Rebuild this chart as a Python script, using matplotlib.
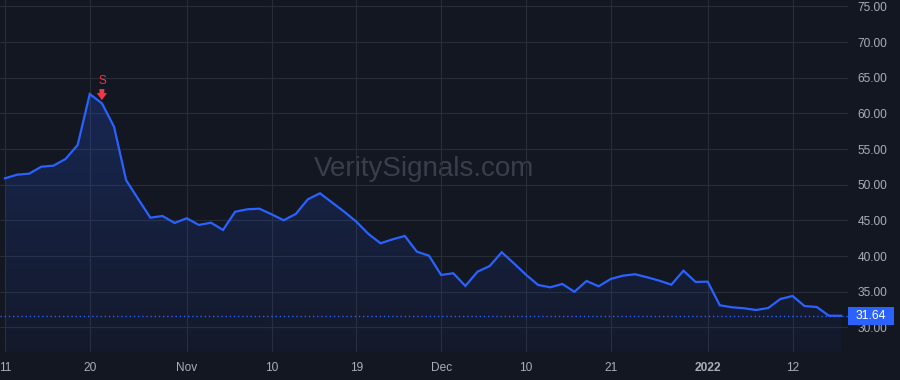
import numpy as np
import pandas as pd
import matplotlib
matplotlib.use('Agg')
import matplotlib.pyplot as plt
from matplotlib.patches import Rectangle
from matplotlib.transforms import blended_transform_factory

# trading days Oct 11 2021 - Jan 19 2022 (market holidays left out)
holidays = ['2021-11-25', '2021-12-24', '2022-01-17']
dates = pd.bdate_range('2021-10-11', '2022-01-19', freq='C', holidays=holidays)

prices = [50.91, 51.42, 51.56, 52.54, 52.68, 53.62, 55.58, 62.73, 61.43, 58.15,
          50.65, 48.00, 45.39, 45.63, 44.65, 45.31, 44.37, 44.69, 43.67, 46.23,
          46.57, 46.65, 45.87, 45.03, 45.91, 47.97, 48.81, 47.52, 46.23, 44.83,
          43.11, 41.80, 42.36, 42.83, 40.62, 40.06, 37.36, 37.60, 35.82, 37.82,
          38.60, 40.54, 39.00, 37.40, 35.96, 35.63, 36.10, 35.00, 36.52, 35.77,
          36.80, 37.26, 37.46, 37.04, 36.56, 36.00, 37.96, 36.38, 36.42, 33.11,
          32.83, 32.69, 32.45, 32.73, 33.99, 34.41, 33.00, 32.87, 31.65, 31.64]

tick_dates = ['2021-10-11', '2021-10-20', '2021-11-01', '2021-11-10', '2021-11-19',
              '2021-12-01', '2021-12-10', '2021-12-21', '2022-01-03', '2022-01-12']
tick_labels = ['11', '20', 'Nov', '10', '19', 'Dec', '10', '21', '2022', '12']
y_ticks = [30, 35, 40, 45, 50, 55, 60, 65, 70, 75]

signal_date = '2021-10-21'
signal_label = 'S'
last_price = prices[-1]

bg = '#131722'
grid = '#282c37'
blue = '#2962ff'
txt = '#abaeb7'
red = '#f23645'

x = np.arange(len(prices))
pos = {d: i for i, d in enumerate(dates.strftime('%Y-%m-%d'))}

fig = plt.figure(figsize=(9, 3.8), dpi=100, facecolor=bg)
ax = fig.add_axes([0, 28 / 380, 848 / 900, 352 / 380], facecolor=bg)
ymin, ymax = 26.56, 75.91

# gradient area under the line
fill = ax.fill_between(x, prices, ymin, color='none', lw=0)
grad = np.linspace(0, 1, 256).reshape(-1, 1)
cmap = matplotlib.colors.LinearSegmentedColormap.from_list(
    'g', [(0.161, 0.384, 1.0, 0.04), (0.161, 0.384, 1.0, 0.22)])
img = ax.imshow(grad, cmap=cmap, aspect='auto', origin='lower',
                extent=[x[0], x[-1], ymin, max(prices)], zorder=1)
img.set_clip_path(fill.get_paths()[0], transform=ax.transData)
ax.set_xlim(-0.41, 69.58)
ax.set_ylim(ymin, ymax)

ax.plot(x, prices, color=blue, lw=1.6, zorder=3, solid_joinstyle='miter')
ax.axhline(last_price, color=blue, lw=1, ls=(0, (1, 2)), zorder=2)

# grid
ax.set_yticks(y_ticks)
ax.set_xticks([pos[d] for d in tick_dates])
ax.grid(True, color=grid, lw=0.8)
ax.set_axisbelow(True)
for s in ax.spines.values():
    s.set_visible(False)

ax.yaxis.tick_right()
ax.set_yticklabels(['%.2f' % v for v in y_ticks])
ax.tick_params(axis='y', length=0, pad=7, labelsize=8.6, labelcolor=txt)
ax.tick_params(axis='x', length=0, pad=7, labelsize=8.6, labelcolor=txt)
ax.set_xticklabels(tick_labels)
for lab in ax.get_yticklabels() + ax.get_xticklabels():
    lab.set_family('Liberation Sans')
ax.get_xticklabels()[tick_labels.index('2022')].set_fontweight('bold')

# watermark
ax.text(0.5, 0.52, 'VeritySignals.com', transform=ax.transAxes, ha='center',
        va='center', fontsize=20, color='#3a3e4a', family='Liberation Sans', zorder=0)

# sell signal marker
si = pos[signal_date]
sv = prices[si]
ax.annotate('', xy=(si, sv + 0.45), xytext=(si, sv + 2.0),
            arrowprops=dict(arrowstyle='simple,head_width=0.75,head_length=0.5,tail_width=0.35',
                            color=red, lw=0, shrinkA=0, shrinkB=0), zorder=4)
ax.text(si, sv + 3.1, signal_label, ha='center', va='center', fontsize=8.5,
        color=red, family='Liberation Sans', zorder=4)

# last price label
trans = blended_transform_factory(ax.transAxes, ax.transData)
ax.add_patch(Rectangle((1.0, last_price - 1.26), 46 / 848, 2.52, transform=trans,
                       fc=blue, ec='none', clip_on=False, zorder=6))
ax.text(1.0 + 23 / 848, last_price, '%.2f' % last_price, transform=trans,
        ha='center', va='center', fontsize=8.8, color='white',
        family='Liberation Sans', zorder=7, clip_on=False)

fig.savefig('out.png', dpi=100, facecolor=bg)
